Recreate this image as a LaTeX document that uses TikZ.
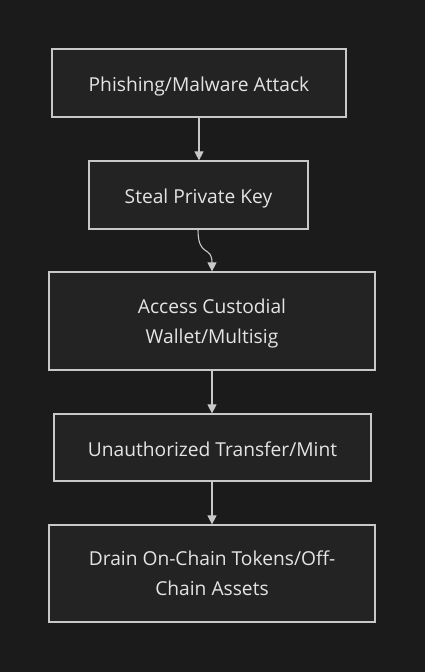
\documentclass[tikz,border=0pt]{standalone}
\usepackage{fontspec}
\setmainfont{Open Sans}
\usetikzlibrary{arrows.meta}
\definecolor{bgc}{HTML}{1B1B1B}
\definecolor{boxfill}{HTML}{222322}
\definecolor{boxline}{HTML}{C8C8C8}
\definecolor{txt}{HTML}{E4E4E4}
\newcommand{\twolines}[2]{\begin{tabular}[b]{@{}c@{}}#1\\#2\end{tabular}}
\begin{document}
\begin{tikzpicture}[x=1pt,y=-1pt,
  stepbox/.style={draw=boxline, fill=boxfill, line width=1.2pt, text=txt,
    font=\fontsize{19.2}{30}\selectfont, inner sep=0pt, anchor=center,
    text height=19.5pt, text depth=2.5pt},
  twobox/.style={stepbox, text height=46pt, text depth=2pt},
  conn/.style={draw=boxline, line width=1.1pt, -{Triangle[length=9pt,width=9pt]}}]
\fill[bgc] (0,0) rectangle (425,672);
\useasboundingbox (0,0) rectangle (425,672);
\node[stepbox, minimum width=294pt, minimum height=68pt] (a) at (199,83) {Phishing/Malware Attack};
\node[stepbox, minimum width=219pt, minimum height=68pt] (b) at (198.5,195) {Steal Private Key};
\node[twobox, minimum width=326pt, minimum height=98pt] (c) at (212,321) {\twolines{Access Custodial}{Wallet/Multisig}};
\node[stepbox, minimum width=317pt, minimum height=67pt] (d) at (212.5,447.5) {Unauthorized Transfer/Mint};
\node[twobox, minimum width=326pt, minimum height=97pt] (e) at (212,573.5) {\twolines{Drain On-Chain Tokens/Off-}{Chain Assets}};
\draw[conn] (a.south -| 199,0) -- (b.north -| 199,0);
\draw[conn] (b.south -| 198,0) .. controls (198,258) and (212,245) .. (c.north -| 212,0);
\draw[conn] (c.south -| 212,0) -- (d.north -| 212,0);
\draw[conn] (d.south -| 212,0) -- (e.north -| 212,0);
\end{tikzpicture}
\end{document}
